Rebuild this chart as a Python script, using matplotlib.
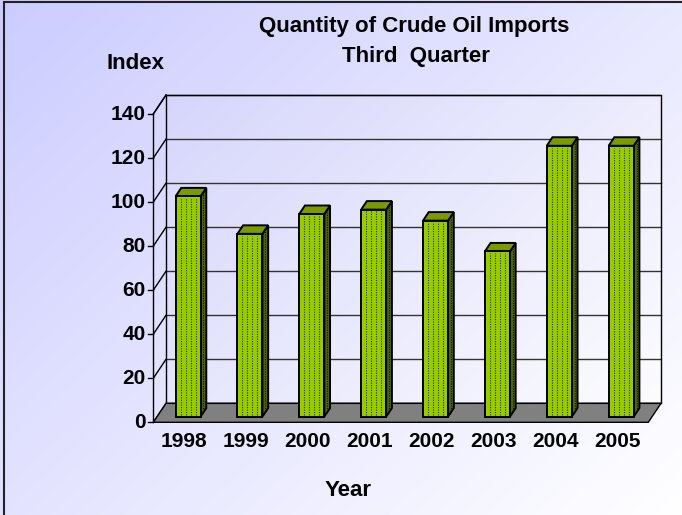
import numpy as np
import matplotlib
matplotlib.use("Agg")
import matplotlib.pyplot as plt
from matplotlib.patches import Polygon, Rectangle

# ---------------- data ----------------
years = ["1998", "1999", "2000", "2001", "2002", "2003", "2004", "2005"]
index_values = [100, 83, 92, 94, 89, 75, 123, 123]
y_ticks = [0, 20, 40, 60, 80, 100, 120, 140]
title_lines = ["Quantity of Crude Oil Imports", "Third  Quarter"]
y_label = "Index"
x_label = "Year"

plt.rcParams['font.family'] = ['Liberation Sans', 'DejaVu Sans']

W, H = 682, 515
fig = plt.figure(figsize=(W / 100, H / 100), dpi=100)

# background gradient (figure)
bg = fig.add_axes([0, 0, 1, 1], zorder=-10)
gx, gy = np.meshgrid(np.linspace(0, 1, 200), np.linspace(0, 1, 200))
t = np.clip((gx * 0.55 + gy * 0.45), 0, 1)
c0 = np.array([204, 204, 255]) / 255.0
c1 = np.array([255, 255, 255]) / 255.0
img = c0[None, None, :] * (1 - t[..., None]) + c1[None, None, :] * t[..., None]
bg.imshow(img, extent=[0, 1, 0, 1], aspect='auto', origin='upper')
bg.set_xlim(0, 1); bg.set_ylim(0, 1)
bg.axis('off')
# border only on left and top
bg.plot([3.5 / W, 3.5 / W, 1.0], [0.0, 1 - 1.5 / H, 1 - 1.5 / H], color='#222222',
        lw=1.5, transform=bg.transAxes, solid_joinstyle='miter')

# main axes in "front plane" coordinates
x0, x1 = 153.3, 648.3
yb, yt = 422.3, 114.0
ax = fig.add_axes([x0 / W, (H - yb) / H, (x1 - x0) / W, (yb - yt) / H])
n = len(years)
ax.set_xlim(-0.5, n - 0.5)
ax.set_ylim(0, 140)
ax.axis('off')

DX = 12.7 / ((x1 - x0) / n)      # depth offset in x data units
DY = 8.6                          # depth offset in y data units
xr = n - 0.5

# back wall with gradient
wall_poly = [(-0.5 + DX, DY), (xr + DX, DY), (xr + DX, 140 + DY), (-0.5 + DX, 140 + DY)]
gx2, gy2 = np.meshgrid(np.linspace(0, 1, 200), np.linspace(0, 1, 200))
t2 = np.clip(gx2 * 0.6 + gy2 * 0.4, 0, 1)
w0 = np.array([214, 214, 252]) / 255.0
w1 = np.array([252, 252, 255]) / 255.0
wimg = w0[None, None, :] * (1 - t2[..., None]) + w1[None, None, :] * t2[..., None]
ax.imshow(wimg, extent=[-0.5 + DX, xr + DX, DY, 140 + DY], aspect='auto',
          origin='upper', zorder=0, clip_on=False)
ax.set_xlim(-0.5, n - 0.5)
ax.set_ylim(0, 140)

# gridlines on back wall and left wall
for v in y_ticks:
    ax.plot([-0.5 + DX, xr + DX], [v + DY, v + DY], color='#333333', lw=1.0,
            zorder=1, clip_on=False)
    ax.plot([-0.5, -0.5 + DX], [v, v + DY], color='black', lw=1.0, zorder=1, clip_on=False)
    ax.plot([-0.5 - 0.085, -0.5], [v, v], color='black', lw=1.0, zorder=3, clip_on=False)
    ax.text(-0.5 - 0.12, v, str(v), ha='right', va='center', fontsize=15,
            fontweight='bold', color='black', clip_on=False)

# wall outlines
ax.add_patch(Polygon(wall_poly, closed=True, fill=False, edgecolor='black', lw=1.0,
                     zorder=1.5, clip_on=False))
ax.plot([-0.5, -0.5], [0, 140], color='black', lw=1.0, zorder=1.5, clip_on=False)
ax.plot([-0.5, -0.5 + DX], [140, 140 + DY], color='black', lw=1.0, zorder=1.5, clip_on=False)

# floor
floor = [(-0.5, 0), (xr, 0), (xr + DX, DY), (-0.5 + DX, DY)]
ax.add_patch(Polygon(floor, closed=True, facecolor='#808080', edgecolor='black', lw=1.0,
                     zorder=2, clip_on=False))

# bars
bw = 0.405
f_front = 0.30
f_depth = 0.45
front_c = '#99cc00'
side_c = '#4d6600'
top_c = '#7a9a00'
dot = (0, (1, 1.2))
for i, v in enumerate(index_values):
    cx = i + f_front * DX
    yb0 = f_front * DY
    l, r = cx - bw / 2, cx + bw / 2
    ddx, ddy = f_depth * DX, f_depth * DY
    top = yb0 + v
    # side face
    ax.add_patch(Polygon([(r, yb0), (r + ddx, yb0 + ddy), (r + ddx, top + ddy), (r, top)],
                         closed=True, facecolor=side_c, edgecolor='black', lw=1.4,
                         zorder=4, clip_on=False, joinstyle='miter'))
    # top face
    ax.add_patch(Polygon([(l, top), (r, top), (r + ddx, top + ddy), (l + ddx, top + ddy)],
                         closed=True, facecolor=top_c, edgecolor='black', lw=1.4,
                         zorder=4, clip_on=False, joinstyle='miter'))
    # front face
    ax.add_patch(Rectangle((l, yb0), bw, v, facecolor=front_c, edgecolor='black', lw=1.4,
                           zorder=5, clip_on=False, joinstyle='miter'))
    # dotted texture
    xs = l + bw * np.array([0.2, 0.4, 0.6, 0.8])
    ax.vlines(xs, yb0 + 0.8, top - 0.8, colors='#2a3a00', linestyles=dot,
              lw=0.8, zorder=6, clip_on=False)
    ax.vlines([r + ddx * 0.5], yb0 + ddy * 0.5 + 0.8, top + ddy * 0.5 - 0.8, colors='#111800',
              linestyles=dot, lw=0.8, zorder=6, clip_on=False)
    # x tick label
    ax.text(i, -8.8, years[i], ha='center', va='center', fontsize=15,
            fontweight='bold', color='black', clip_on=False)

# titles and labels (figure coordinates in pixels)
def ftext(x, y, s, size):
    fig.text(x / W, 1 - y / H, s, ha='center', va='center', fontsize=size,
             fontweight='bold', color='black')

ftext(414, 26.7, title_lines[0], 16)
ftext(416, 56.7, title_lines[1], 16)
ftext(136, 63.3, y_label, 16)
ftext(348, 490, x_label, 16)

fig.savefig("out.png", dpi=100)
